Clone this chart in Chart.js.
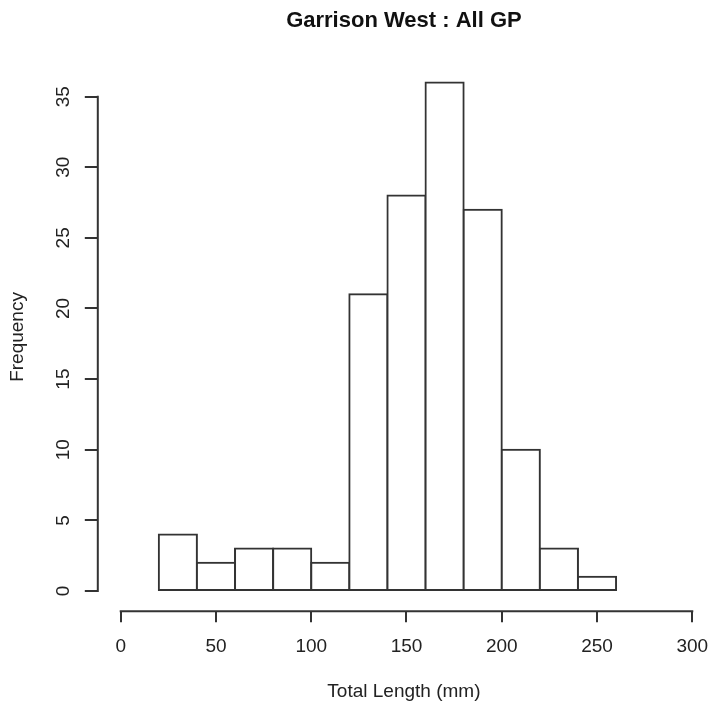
<!DOCTYPE html>
<html>
<head>
<meta charset="utf-8">
<title>Garrison West : All GP</title>
<script src="https://cdn.jsdelivr.net/npm/chart.js@4/dist/chart.umd.min.js"></script>
<style>
  html, body { margin: 0; padding: 0; background: #fff; overflow: hidden; }
  #wrap { width: 710px; height: 706px; }
</style>
</head>
<body>
<div id="wrap"><canvas id="hist" width="710" height="706"></canvas></div>
<script>
// Histogram bins (total length, mm) and their counts
const binBreaks = [20, 40, 60, 80, 100, 120, 140, 160, 180, 200, 220, 240, 260];
const binCounts = [4, 2, 3, 3, 2, 21, 28, 36, 27, 10, 3, 1];

// Axis tick values
const xTickValues = [0, 50, 100, 150, 200, 250, 300];
const yTickValues = [0, 5, 10, 15, 20, 25, 30, 35];

// Texts
const chartTitle = 'Garrison West : All GP';
const xTitle = 'Total Length (mm)';
const yTitle = 'Frequency';

const INK = '#333';
const LINE_W = 2;
const FONT = "'Liberation Sans', Arial, sans-serif";

// one bar per bin, centred between its breaks
const barPoints = binCounts.map((c, i) => ({
  x: (binBreaks[i] + binBreaks[i + 1]) / 2,
  y: c
}));

// R-style axis lines that run only from the first to the last tick
const axisLines = {
  id: 'axisLines',
  afterDraw(chart) {
    const { ctx, scales: { x, y }, chartArea } = chart;
    ctx.save();
    ctx.strokeStyle = INK;
    ctx.lineWidth = LINE_W;
    ctx.lineCap = 'square';
    ctx.beginPath();
    ctx.moveTo(chartArea.left, y.getPixelForValue(yTickValues[0]));
    ctx.lineTo(chartArea.left, y.getPixelForValue(yTickValues[yTickValues.length - 1]));
    ctx.moveTo(x.getPixelForValue(xTickValues[0]), chartArea.bottom);
    ctx.lineTo(x.getPixelForValue(xTickValues[xTickValues.length - 1]), chartArea.bottom);
    ctx.stroke();
    ctx.restore();
  }
};

new Chart(document.getElementById('hist'), {
  type: 'bar',
  data: {
    datasets: [{
      data: barPoints,
      backgroundColor: '#ffffff',
      borderColor: INK,
      borderWidth: LINE_W,
      borderSkipped: false,
      inflateAmount: LINE_W / 2,
      barPercentage: 1,
      categoryPercentage: 1
    }]
  },
  options: {
    responsive: false,
    animation: false,
    events: [],
    layout: { padding: 0 },
    plugins: {
      legend: { display: false },
      tooltip: { enabled: false },
      title: {
        display: true,
        text: chartTitle,
        fullSize: false,
        color: '#111',
        font: { family: FONT, size: 22, weight: 'bold', lineHeight: 1.2 },
        padding: { top: 7.6, bottom: 28.6 }
      }
    },
    scales: {
      x: {
        type: 'linear',
        offset: false,
        min: -12.02,
        max: 309.3,
        afterBuildTicks(scale) { scale.ticks = xTickValues.map(v => ({ value: v })); },
        afterFit(scale) {
          scale.height = 94.7;
          scale.paddingLeft = 0;
          scale.paddingRight = 0;
        },
        border: { display: false },
        grid: {
          offset: false,
          drawOnChartArea: false,
          drawTicks: true,
          tickLength: 11,
          color: INK,
          lineWidth: LINE_W
        },
        ticks: {
          color: '#222',
          padding: 13,
          maxRotation: 0,
          minRotation: 0,
          font: { family: FONT, size: 19, lineHeight: 1.2 }
        },
        title: {
          display: true,
          text: xTitle,
          color: '#222',
          font: { family: FONT, size: 19, lineHeight: 1.2 },
          padding: { top: 0, bottom: 2.7 }
        }
      },
      y: {
        type: 'linear',
        min: -1.44,
        max: 37.41,
        afterBuildTicks(scale) { scale.ticks = yTickValues.map(v => ({ value: v })); },
        afterFit(scale) {
          scale.width = 97.8;
          scale.paddingTop = 0;
          scale.paddingBottom = 0;
        },
        border: { display: false },
        grid: {
          drawOnChartArea: false,
          drawTicks: true,
          tickLength: 13,
          color: INK,
          lineWidth: LINE_W
        },
        ticks: {
          color: '#222',
          padding: 10,
          crossAlign: 'center',
          minRotation: 90,
          maxRotation: 90,
          font: { family: FONT, size: 19, lineHeight: 1.2 }
        },
        title: {
          display: true,
          text: yTitle,
          color: '#222',
          font: { family: FONT, size: 19, lineHeight: 1.2 },
          padding: { top: 6.3, bottom: 0 }
        }
      }
    }
  },
  plugins: [axisLines]
});
</script>
</body>
</html>
